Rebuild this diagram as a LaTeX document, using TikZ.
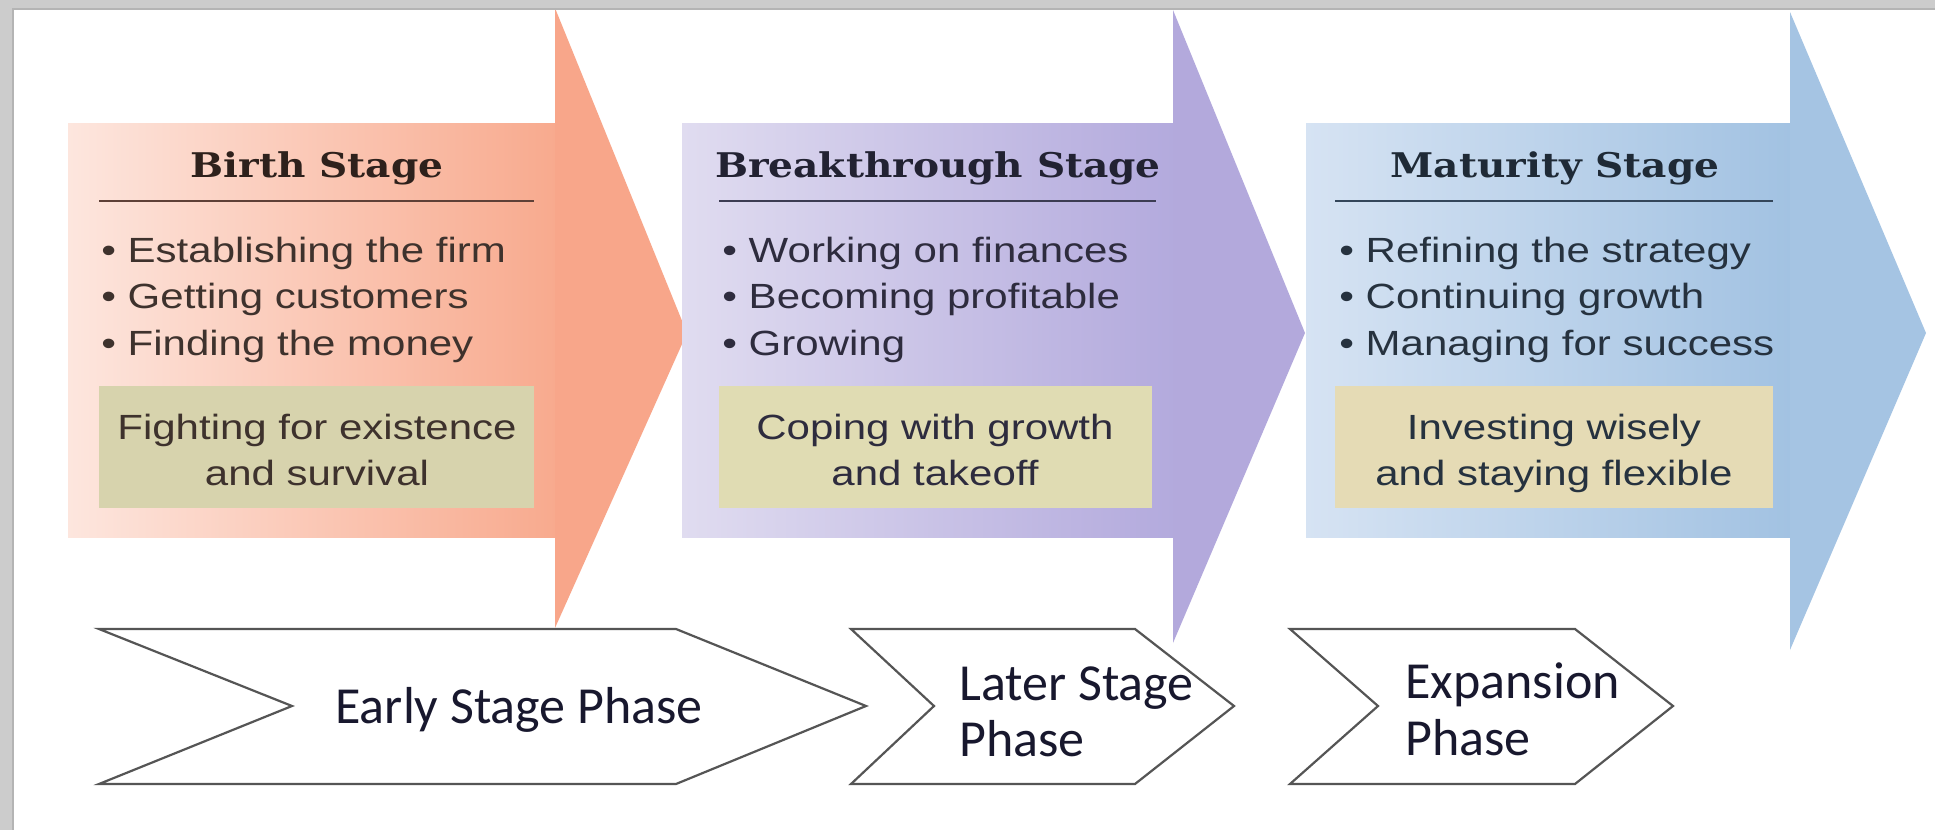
\documentclass[tikz,border=0pt]{standalone}
\usepackage{fontspec}
\setmainfont{Liberation Sans}
\newfontfamily\bulletfont{Liberation Sans}[FakeStretch=1.2]
\newfontfamily\titlefont{DejaVu Serif}[FakeStretch=1.15]
\newfontfamily\phasefont{Carlito}
\definecolor{framegray}{HTML}{CCCCCC}
\definecolor{frameedge}{HTML}{B4B4B4}
\definecolor{aonel}{HTML}{FDE6DE}
\definecolor{aoner}{HTML}{F8AA8E}
\definecolor{aoneh}{HTML}{F8A68A}
\definecolor{atwol}{HTML}{E0DCF0}
\definecolor{atwor}{HTML}{B3AADD}
\definecolor{atwoh}{HTML}{B3A9DC}
\definecolor{athrl}{HTML}{D6E3F3}
\definecolor{athrr}{HTML}{A2C2E2}
\definecolor{athrh}{HTML}{A5C4E3}
\definecolor{kone}{HTML}{D7D3AD}
\definecolor{ktwo}{HTML}{E0DCB3}
\definecolor{kthr}{HTML}{E5DBB5}
\definecolor{tone}{HTML}{2E211C}
\definecolor{ttwo}{HTML}{222232}
\definecolor{tthr}{HTML}{1F2A36}
\definecolor{bone}{HTML}{3E322D}
\definecolor{btwo}{HTML}{2E2C3E}
\definecolor{bthr}{HTML}{26323F}
\definecolor{rone}{HTML}{5E4037}
\definecolor{rtwo}{HTML}{3C3C52}
\definecolor{rthr}{HTML}{34465A}
\definecolor{chevline}{HTML}{555555}
\definecolor{phasecol}{HTML}{18182E}
\begin{document}
\begin{tikzpicture}[x=0.5pt,y=-0.5pt,
  bodytext/.style={anchor=base west, inner sep=0pt, font=\bulletfont\fontsize{17.5}{21}\selectfont},
  boxtext/.style={anchor=base, inner sep=0pt, font=\bulletfont\fontsize{17.5}{21}\selectfont},
  titletext/.style={anchor=base, inner sep=0pt, font=\titlefont\bfseries\fontsize{17}{20}\selectfont},
  phasetext/.style={anchor=base west, inner sep=0pt, font=\phasefont\fontsize{26}{30}\selectfont, text=phasecol},
  chevron/.style={draw=chevline, line width=1.1pt, fill=white, line join=miter},
  rulestyle/.style={line width=1pt},
]
\useasboundingbox (0,0) rectangle (1935,830);
\fill[white] (0,0) rectangle (1935,830);

% arrow 1
\shade[left color=aonel, right color=aoner] (68,123) rectangle (556,537);
\fill[aoneh] (555,8) -- (687,333) -- (555,628) -- cycle;
% arrow 2
\shade[left color=atwol, right color=atwor] (682,123) rectangle (1174,537);
\fill[atwoh] (1173,10) -- (1305,333) -- (1173,643) -- cycle;
% arrow 3
\shade[left color=athrl, right color=athrr] (1306,123) rectangle (1791,537);
\fill[athrh] (1790,12) -- (1926,333) -- (1790,650) -- cycle;

% khaki boxes
\fill[kone] (99,386) rectangle (534,508);
\fill[ktwo] (719,386) rectangle (1152,508);
\fill[kthr] (1335,386) rectangle (1773,508);

% rules
\draw[rulestyle, rone] (99,201) -- (534,201);
\draw[rulestyle, rtwo] (719,201) -- (1156,201);
\draw[rulestyle, rthr] (1335,201) -- (1773,201);

% titles
\node[titletext, text=tone] (tbirth) at (317,177) {Birth Stage};
\node[titletext, text=ttwo] (tbreak) at (938,177) {Breakthrough Stage};
\node[titletext, text=tthr] (tmat) at (1555,177) {Maturity Stage};

% bullets
\node[bodytext, text=bone] (bA1) at (101,262) {• Establishing the firm};
\node[bodytext, text=bone] (bA2) at (101,308) {• Getting customers};
\node[bodytext, text=bone] (bA3) at (101,355) {• Finding the money};
\node[bodytext, text=btwo] (bB1) at (722,262) {• Working on finances};
\node[bodytext, text=btwo] (bB2) at (722,308) {• Becoming profitable};
\node[bodytext, text=btwo] (bB3) at (722,355) {• Growing};
\node[bodytext, text=bthr] (bC1) at (1339,262) {• Refining the strategy};
\node[bodytext, text=bthr] (bC2) at (1339,308) {• Continuing growth};
\node[bodytext, text=bthr] (bC3) at (1339,355) {• Managing for success};

% box texts
\node[boxtext, text=bone] (kA1) at (317,439) {Fighting for existence};
\node[boxtext, text=bone] (kA2) at (317,485) {and survival};
\node[boxtext, text=btwo] (kB1) at (935,439) {Coping with growth};
\node[boxtext, text=btwo] (kB2) at (935,485) {and takeoff};
\node[boxtext, text=bthr] (kC1) at (1554,439) {Investing wisely};
\node[boxtext, text=bthr] (kC2) at (1554,485) {and staying flexible};

% chevrons
\draw[chevron] (99,629) -- (676,629) -- (866,706) -- (676,784) -- (99,784) -- (292,706) -- cycle;
\draw[chevron] (851,629) -- (1135,629) -- (1234,706) -- (1135,784) -- (851,784) -- (934,706) -- cycle;
\draw[chevron] (1290,629) -- (1575,629) -- (1673,706) -- (1575,784) -- (1290,784) -- (1378,706) -- cycle;

\node[phasetext] (early) at (335,723) {Early Stage Phase};
\node[phasetext] (later1) at (959,700) {Later Stage};
\node[phasetext] (later2) at (959,756) {Phase};
\node[phasetext] (exp1) at (1405,698) {Expansion};
\node[phasetext] (exp2) at (1405,755) {Phase};

% frame shadow
\fill[framegray] (0,0) rectangle (1935,9);
\fill[framegray] (0,0) rectangle (13,830);
\draw[frameedge, line width=1pt] (13,830) -- (13,9) -- (1935,9);
\end{tikzpicture}
\end{document}
